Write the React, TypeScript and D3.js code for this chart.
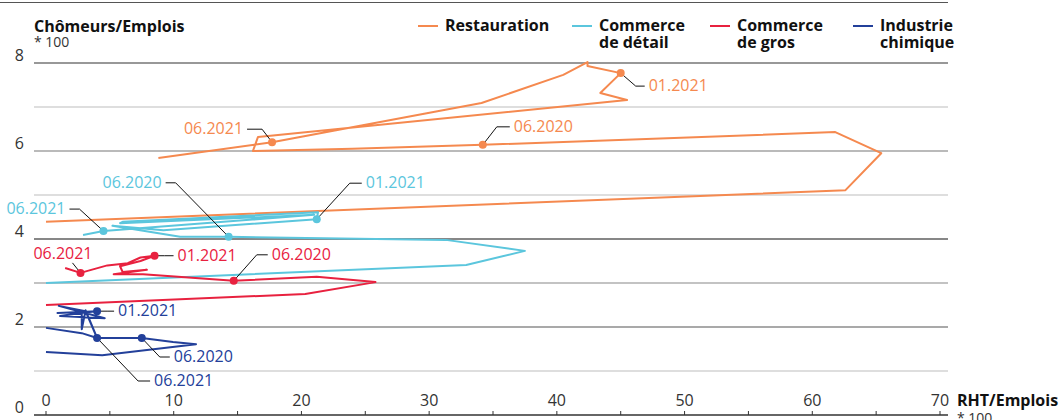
import React from "react";
import * as d3 from "d3";

// ---- data: [RHT/Emplois*100, Chômeurs/Emplois*100] monthly trajectories ----
const restauration: [number, number][] = [
  [0, 4.39], [62.6, 5.11], [65.4, 5.95], [61.8, 6.43], [34.2, 6.14], [24.0, 6.05],
  [16.2, 6.0], [16.6, 6.32], [45.5, 7.16], [43.4, 7.32], [45.0, 7.77], [42.4, 7.93],
  [42.4, 8.02], [40.5, 7.73], [34.1, 7.09], [17.7, 6.2], [8.8, 5.84],
];
const commerceDetail: [number, number][] = [
  [0, 3.0], [32.9, 3.41], [37.5, 3.73], [31.3, 3.98], [14.3, 4.05], [10.5, 4.05],
  [5.2, 4.3], [9.2, 4.2], [21.2, 4.45], [21.3, 4.61], [6.0, 4.39], [5.8, 4.36],
  [21.0, 4.55], [4.5, 4.18], [2.9, 4.09],
];
const commerceGros: [number, number][] = [
  [0, 2.5], [20.3, 2.75], [25.8, 3.02], [21.2, 3.14], [14.7, 3.05], [7.6, 3.2],
  [5.3, 3.2], [7.9, 3.3], [6.0, 3.25], [5.8, 3.38], [7.4, 3.5], [8.5, 3.62],
  [7.4, 3.58], [6.4, 3.45], [4.8, 3.4], [2.7, 3.23], [1.5, 3.34],
];
const industrieChimique: [number, number][] = [
  [0, 1.43], [4.4, 1.36], [11.75, 1.61], [9.95, 1.66], [7.5, 1.75], [4.0, 1.75],
  [3.1, 2.36], [1.0, 2.48], [4.6, 2.2], [1.1, 2.25], [3.0, 2.33], [4.0, 2.36],
  [0.9, 2.32], [2.8, 2.34], [2.8, 1.95], [3.1, 2.38], [4.0, 1.75], [2.8, 1.86], [0, 1.98],
];

const seriesNames = ["Restauration", "Commerce\nde détail", "Commerce\nde gros", "Industrie\nchimique"];
const seriesColors = ["#f5894f", "#5bc6dd", "#e8213f", "#23409a"];
const allSeries = [restauration, commerceDetail, commerceGros, industrieChimique];

// annotated points: series index, point index, label
const annotations: { s: number; i: number; label: string }[] = [
  { s: 0, i: 15, label: "06.2021" },
  { s: 0, i: 4, label: "06.2020" },
  { s: 0, i: 10, label: "01.2021" },
  { s: 1, i: 4, label: "06.2020" },
  { s: 1, i: 13, label: "06.2021" },
  { s: 1, i: 8, label: "01.2021" },
  { s: 2, i: 15, label: "06.2021" },
  { s: 2, i: 11, label: "01.2021" },
  { s: 2, i: 4, label: "06.2020" },
  { s: 3, i: 11, label: "01.2021" },
  { s: 3, i: 4, label: "06.2020" },
  { s: 3, i: 16, label: "06.2021" },
];
// leader geometry relative to the point: elbow (dx1,dy1), end (dx2,dy2), text anchor, text dx, text dy
const leaderGeom: [number, number, number, number, string, number, number][] = [
  [-10, -13, -25, -13, "end", -4, 5],
  [14, -18, 27, -18, "start", 4, 5],
  [15, 13, 24, 13, "start", 4, 5],
  [-53, -54, -63, -54, "end", -4, 5],
  [-24, -22, -34, -22, "end", -4, 5],
  [33, -36, 45, -36, "start", 4, 5],
  [-8, -10, -8, -10, "end", 20, -4],
  [10, 0, 19, 0, "start", 4, 5],
  [23, -26, 34, -26, "start", 4, 5],
  [10, 0, 17, 0, "start", 4, 5],
  [18, 19, 28, 19, "start", 4, 5],
  [41, 43, 53, 43, "start", 4, 5],
];

const yTicks = [0, 2, 4, 6, 8];
const gridVals = [1, 2, 3, 4, 5, 6, 7, 8];
const gridColors: Record<number, string> = { 1: "#bdbdbd", 2: "#555", 3: "#888", 4: "#111", 5: "#bdbdbd", 6: "#777", 7: "#bdbdbd", 8: "#333" };
const xTicks = [0, 10, 20, 30, 40, 50, 60, 70];
const xMinor = d3.range(0, 71, 5);

const W = 1062, H = 420;
const FONT = "'Open Sans', sans-serif";

export default function App() {
  const x = d3.scaleLinear().domain([0, 70]).range([46, 940]);
  const y = d3.scaleLinear().domain([0, 8]).range([415, 63]);
  const line = d3.line<[number, number]>().x((d) => x(d[0])).y((d) => y(d[1]));
  const legendX = [418, 572, 710, 853];

  return (
    <svg width={W} height={H} style={{ position: "absolute", left: 0, top: 0, fontFamily: FONT }}>
      <rect width={W} height={H} fill="#fff" />
      <line x1={0} x2={948} y1={2.5} y2={2.5} stroke="#555" strokeWidth={1} />
      {gridVals.map((v) => (
        <line key={v} x1={34} x2={948} y1={y(v)} y2={y(v)} stroke={gridColors[v]} strokeWidth={1.2} />
      ))}
      <line x1={34} x2={948} y1={y(0)} y2={y(0)} stroke="#333" strokeWidth={1.5} />
      {xMinor.map((v) => (
        <line key={v} x1={x(v)} x2={x(v)} y1={y(0) - 4} y2={y(0)} stroke="#333" strokeWidth={1} />
      ))}
      {yTicks.map((v) => (
        <text key={v} x={24} y={y(v) - 2} textAnchor="end" fontSize={16} fill="#333">{v}</text>
      ))}
      {xTicks.map((v) => (
        <text key={v} x={x(v)} y={y(0) - 9} textAnchor="middle" fontSize={16} fill="#333">{v}</text>
      ))}
      <text x={34} y={32} fontSize={16} fontWeight={700} fill="#111">Chômeurs/Emplois</text>
      <text x={34} y={47} fontSize={14} fill="#333">* 100</text>
      <text x={957} y={406} fontSize={16} fontWeight={700} fill="#111">RHT/Emplois</text>
      <text x={957} y={423} fontSize={14} fill="#333">* 100</text>

      {seriesNames.map((n, k) => (
        <g key={k}>
          <line x1={legendX[k]} x2={legendX[k] + 20} y1={26} y2={26} stroke={seriesColors[k]} strokeWidth={2} />
          {n.split("\n").map((t, j) => (
            <text key={j} x={legendX[k] + 27} y={31 + j * 17} fontSize={16} fontWeight={700} fill="#111">{t}</text>
          ))}
        </g>
      ))}

      {allSeries.map((s, k) => (
        <path key={k} d={line(s) || ""} fill="none" stroke={seriesColors[k]} strokeWidth={2} strokeLinejoin="round" />
      ))}

      {annotations.map((a, k) => {
        const p = allSeries[a.s][a.i];
        const px = x(p[0]), py = y(p[1]);
        const [dx1, dy1, dx2, dy2, anchor, tdx, tdy] = leaderGeom[k];
        return (
          <g key={k}>
            <polyline points={`${px},${py} ${px + dx1},${py + dy1} ${px + dx2},${py + dy2}`} fill="none" stroke="#111" strokeWidth={1} />
            <circle cx={px} cy={py} r={4} fill={seriesColors[a.s]} />
            <text x={px + dx2 + tdx} y={py + dy2 + tdy} textAnchor={anchor} fontSize={16} fill={seriesColors[a.s]}>{a.label}</text>
          </g>
        );
      })}
    </svg>
  );
}
